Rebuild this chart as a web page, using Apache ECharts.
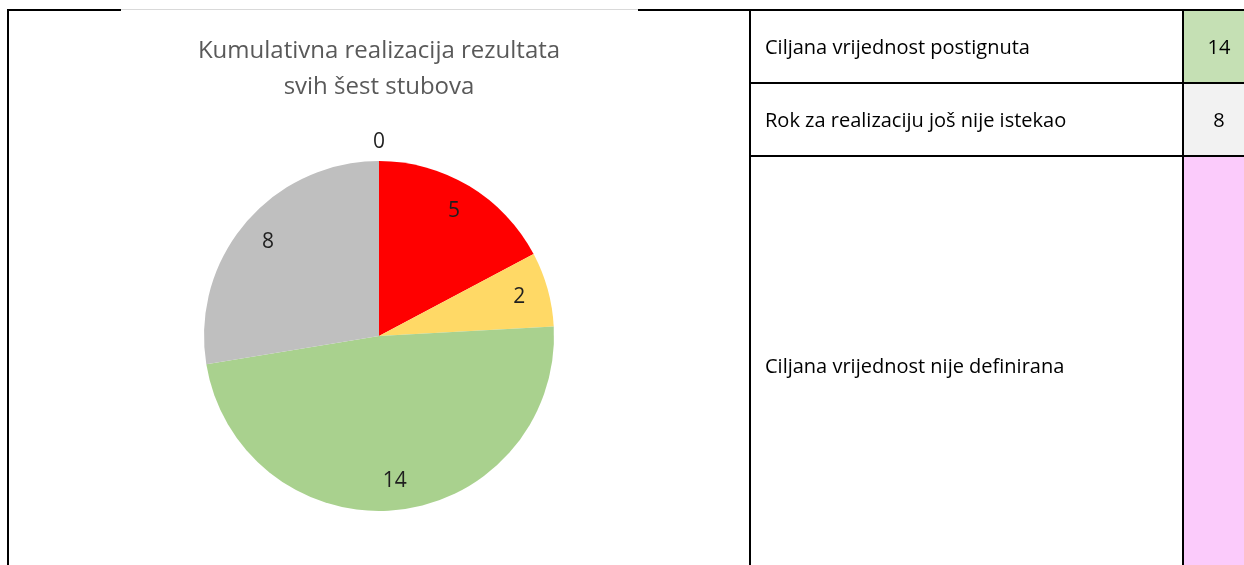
<!DOCTYPE html>
<html><head><meta charset="utf-8">
<script src="https://cdn.jsdelivr.net/npm/echarts@6/dist/echarts.min.js"></script>
<style>
html,body{margin:0;padding:0}
body{width:1244px;height:565px;overflow:hidden;background:#fff;position:relative;font-family:"Open Sans",sans-serif}
#chart{position:absolute;left:0;top:0;width:758px;height:565px}
.ln{position:absolute;background:#000}
.cell{position:absolute;display:flex;align-items:center;box-sizing:border-box;color:#000;font-size:20px;overflow:hidden;white-space:nowrap}
</style></head><body>
<div id="chart"></div>
<div id="table"></div>
<script>
// ---- data ----
const categories = ['Ciljana vrijednost nije postignuta', 'Djelomično postignuta', 'Ciljana vrijednost postignuta', 'Rok za realizaciju još nije istekao', 'Ciljana vrijednost nije definirana'];
const values = [5, 2, 14, 8, 0];
const sliceColors = ['#FF0000', '#FFD966', '#A9D18E', '#BFBFBF', '#FFCCFF'];
const titleLines = ['Kumulativna realizacija rezultata', 'svih šest stubova'];
const tableLabels = ['Ciljana vrijednost postignuta', 'Rok za realizaciju još nije istekao', 'Ciljana vrijednost nije definirana'];
const tableValues = ['14', '8', ''];
const tableColors = ['#C5E0B4', '#F2F2F2', '#FBCBFB'];

// ---- table & frame (HTML) ----
const tbl = document.getElementById('table');
function box(cls, l, t, w, h, bg, txt, extra) {
  const d = document.createElement('div');
  d.className = cls;
  d.style.left = l + 'px'; d.style.top = t + 'px';
  d.style.width = w + 'px'; d.style.height = h + 'px';
  if (bg) d.style.background = bg;
  if (txt !== undefined) d.textContent = txt;
  if (extra) Object.assign(d.style, extra);
  tbl.appendChild(d);
  return d;
}
const rowTops = [11, 84, 157];
const rowBottoms = [82, 155, 573];
tableLabels.forEach((lab, i) => {
  box('cell', 751, rowTops[i], 431, rowBottoms[i] - rowTops[i], null, lab, {paddingLeft: '14px'});
  box('cell', 1184, rowTops[i], 70, rowBottoms[i] - rowTops[i], tableColors[i], tableValues[i], {justifyContent: 'center'});
});
// frame lines
box('ln', 7, 9, 114, 2);
box('ln', 121, 9, 517, 1, '#D9D9D9');
box('ln', 638, 9, 606, 2);
box('ln', 7, 9, 2, 556);
box('ln', 749, 9, 2, 556);
box('ln', 1182, 9, 2, 556);
box('ln', 749, 82, 495, 2);
box('ln', 749, 155, 495, 2);

// ---- pie ----
const chart = echarts.init(document.getElementById('chart'), null, {renderer: 'canvas'});
const pieData = categories.map((c, i) => ({name: c, value: values[i], itemStyle: {color: sliceColors[i]}}));
const labelData = categories.map((c, i) => {
  const d = {name: c, value: values[i]};
  if (values[i] === 0) d.label = {offset: [0, -48]};
  return d;
});
chart.setOption({
  animation: false,
  title: {
    text: titleLines.join('\n'),
    left: 'center',
    top: 28,
    textStyle: {fontFamily: 'Open Sans', fontSize: 24, fontWeight: 'normal', color: '#595959', lineHeight: 36}
  },
  series: [
    {
      type: 'pie',
      center: [379, 336],
      radius: [0, 175],
      startAngle: 90,
      clockwise: true,
      silent: true,
      label: {show: false},
      labelLine: {show: false},
      data: pieData
    },
    {
      type: 'pie',
      center: [379, 336],
      radius: [110, 175],
      startAngle: 90,
      clockwise: true,
      silent: true,
      itemStyle: {color: 'rgba(0,0,0,0)'},
      label: {show: true, position: 'inside', formatter: '{c}', fontFamily: 'Open Sans', fontSize: 21, color: '#1f1f1f'},
      labelLine: {show: false},
      data: labelData
    }
  ]
});
</script>
</body></html>
